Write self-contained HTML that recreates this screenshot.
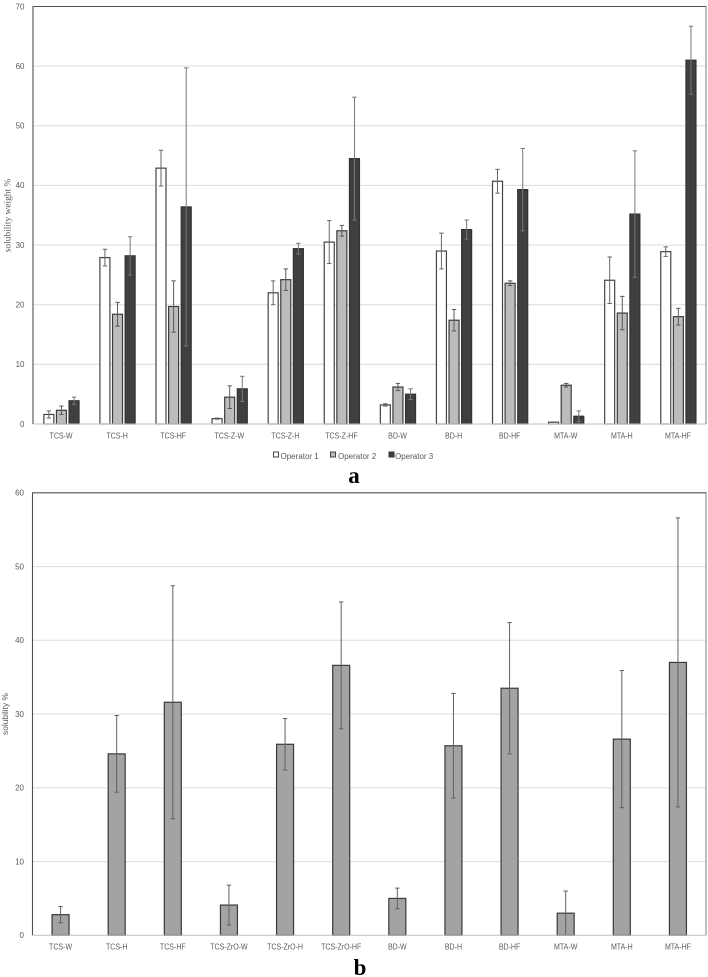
<!DOCTYPE html>
<html lang="en">
<head>
<meta charset="utf-8">
<title>Solubility charts</title>
<style>
html,body{margin:0;padding:0;background:#fff;width:708px;height:977px;overflow:hidden}
svg{display:block;position:absolute;left:0;top:0;filter:blur(0.3px)}
text{font-family:"Liberation Sans",sans-serif;fill:#595959}
.serif{font-family:"Liberation Serif",serif}
</style>
</head>
<body>
<svg id="figure" width="708" height="977" viewBox="0 0 708 977" xmlns="http://www.w3.org/2000/svg">
<g id="chart-a"></g>
<g id="chart-b"></g>
<text class="serif" x="354" y="483" text-anchor="middle" font-size="23" font-weight="bold" style="fill:#000">a</text>
<text class="serif" x="360" y="975" text-anchor="middle" font-size="23" font-weight="bold" style="fill:#000">b</text>
<g>
<rect x="273.5" y="452" width="5" height="5" fill="#fff" stroke="#444" stroke-width="1"/>
<text x="280.5" y="459" font-size="8">Operator 1</text>
<rect x="330.5" y="452" width="5" height="5" fill="#b8b8b8" stroke="#444" stroke-width="1"/>
<text x="338" y="459" font-size="8">Operator 2</text>
<rect x="389" y="452" width="5" height="5" fill="#3d3d3d" stroke="#333" stroke-width="1"/>
<text x="395" y="459" font-size="8">Operator 3</text>
</g>
</svg>
<script>
const categoriesA = ["TCS-W","TCS-H","TCS-HF","TCS-Z-W","TCS-Z-H","TCS-Z-HF","BD-W","BD-H","BD-HF","MTA-W","MTA-H","MTA-HF"];
const operator1 = [1.6,27.9,42.9,0.9,22,30.5,3.2,29,40.7,0.3,24.1,28.9];
const operator2 = [2.3,18.4,19.7,4.5,24.2,32.4,6.2,17.4,23.6,6.5,18.6,18];
const operator3 = [3.9,28.2,36.4,5.9,29.4,44.5,5,32.6,39.3,1.3,35.2,61];
const operator1Err = [0.6,1.4,3,0.1,2,3.6,0.2,3,2,0.05,3.9,0.8];
const operator2Err = [0.7,2,4.3,1.9,1.8,0.9,0.6,1.8,0.4,0.3,2.8,1.4];
const operator3Err = [0.6,3.2,23.3,2.1,0.9,10.3,0.9,1.6,6.9,0.9,10.6,5.7];
const ticksA = [0,10,20,30,40,50,60,70];

const categoriesB = ["TCS-W","TCS-H","TCS-HF","TCS-ZrO-W","TCS-ZrO-H","TCS-ZrO-HF","BD-W","BD-H","BD-HF","MTA-W","MTA-H","MTA-HF"];
const overall = [2.8,24.6,31.6,4.1,25.9,36.6,5,25.7,33.5,3,26.6,37];
const overallErr = [1.1,5.2,15.8,2.7,3.5,8.6,1.4,7.1,8.9,3,9.3,19.6];
const ticksB = [0,10,20,30,40,50,60];

const NS = "http://www.w3.org/2000/svg";
function mk(parent, tag, props, txt) {
  const el = document.createElementNS(NS, tag);
  for (const k in props) el.setAttribute(k, props[k]);
  if (txt !== undefined) el.textContent = txt;
  parent.appendChild(el);
  return el;
}

function drawFrame(root, cfg, ticks, cats, y, x) {
  for (const t of ticks) {
    if (t > 0 && t < ticks[ticks.length - 1]) {
      const g = mk(root, "line", {x1: cfg.left, x2: cfg.right, y1: y(t), y2: y(t), stroke: "#e0e0e0", "stroke-width": 1.2});
      
      
    }
    const l = mk(root, "text", {x: cfg.tickX, y: y(t) + 2.8, "text-anchor": "end", "font-size": 8}, String(t));
    
    
  }
  cats.forEach((c, i) => {
    const l = mk(root, "text", {transform: "translate(" + x(i) + "," + cfg.catY + ") scale(0.88,1)", "text-anchor": "middle", "font-size": 8}, c);
    
    
  });
}

function drawBorder(root, cfg, y0) {
  const base = mk(root, "line", {x1: cfg.left, x2: cfg.right, y1: y0, y2: y0, stroke: "#c0c0c0", "stroke-width": 1});
  
  
  const top = mk(root, "line", {x1: cfg.left - 0.5, x2: cfg.right + 0.5, y1: cfg.top, y2: cfg.top, stroke: "#505050", "stroke-width": 1.1});
  
  
  const leftA = mk(root, "line", {x1: cfg.left, x2: cfg.left, y1: cfg.top, y2: y0, stroke: "#505050", "stroke-width": 1.1});
  
  
  const rightA = mk(root, "line", {x1: cfg.right, x2: cfg.right, y1: cfg.top, y2: y0, stroke: "#808080", "stroke-width": 1});
  
  
}

function drawBar(root, cx, w, v, e, y, y0, fill, stroke, cap, errColor) {
  const bar = mk(root, "rect", {x: cx - w / 2, y: y(v), width: w, height: y0 - y(v), fill: fill, stroke: stroke, "stroke-width": 1.2});
  
  
  const hi = y(v + e), lo = y(Math.max(0, v - e));
  const stem = mk(root, "line", {x1: cx, x2: cx, y1: hi, y2: lo, stroke: errColor, "stroke-width": 1});
  
  
  const capTop = mk(root, "line", {x1: cx - cap, x2: cx + cap, y1: hi, y2: hi, stroke: errColor, "stroke-width": 1});
  
  
  const capLow = mk(root, "line", {x1: cx - cap, x2: cx + cap, y1: lo, y2: lo, stroke: errColor, "stroke-width": 1});
  
  
}

/* chart a */
const cfgA = {left: 33, right: 706, top: 6.5, bottom: 424, tickX: 24.5, catY: 438.5, max: 70};
const rootA = document.getElementById("chart-a");
const yA = v => cfgA.bottom - v / cfgA.max * (cfgA.bottom - cfgA.top);
const xA = i => cfgA.left + (i + 0.5) * (cfgA.right - cfgA.left) / categoriesA.length;
drawFrame(rootA, cfgA, ticksA, categoriesA, yA, xA);
const seriesA = [
  {vals: operator1, errs: operator1Err, fill: "#ffffff", stroke: "#444444", off: -12.6, err: "#666666"},
  {vals: operator2, errs: operator2Err, fill: "#bcbcbc", stroke: "#3c3c3c", off: 0, err: "#5a5a5a"},
  {vals: operator3, errs: operator3Err, fill: "#3f3f3f", stroke: "#333333", off: 12.6, err: "#777777"}
];
seriesA.forEach(s => {
  s.vals.forEach((v, i) => {
    drawBar(rootA, xA(i) + s.off + 0.4, 10, v, s.errs[i], yA, cfgA.bottom, s.fill, s.stroke, 2.2, s.err);
  });
});
drawBorder(rootA, cfgA, cfgA.bottom);
const titleA = mk(rootA, "text", {transform: "translate(10.5,215.5) rotate(-90)", "text-anchor": "middle", "font-size": 9.4, class: "serif"}, "solubility weight %");



/* chart b */
const cfgB = {left: 32.5, right: 706, top: 492.8, bottom: 935.3, tickX: 24, catY: 949.5, max: 60};
const rootB = document.getElementById("chart-b");
const yB = v => cfgB.bottom - v / cfgB.max * (cfgB.bottom - cfgB.top);
const xB = i => cfgB.left + (i + 0.5) * (cfgB.right - cfgB.left) / categoriesB.length;
drawFrame(rootB, cfgB, ticksB, categoriesB, yB, xB);
overall.forEach((v, i) => {
  drawBar(rootB, xB(i), 17, v, overallErr[i], yB, cfgB.bottom, "#a3a3a3", "#3a3a3a", 2.2, "#606060");
});
drawBorder(rootB, cfgB, cfgB.bottom);
const titleB = mk(rootB, "text", {transform: "translate(8,714) rotate(-90)", "text-anchor": "middle", "font-size": 8.4}, "solubility %");


</script>
</body>
</html>
